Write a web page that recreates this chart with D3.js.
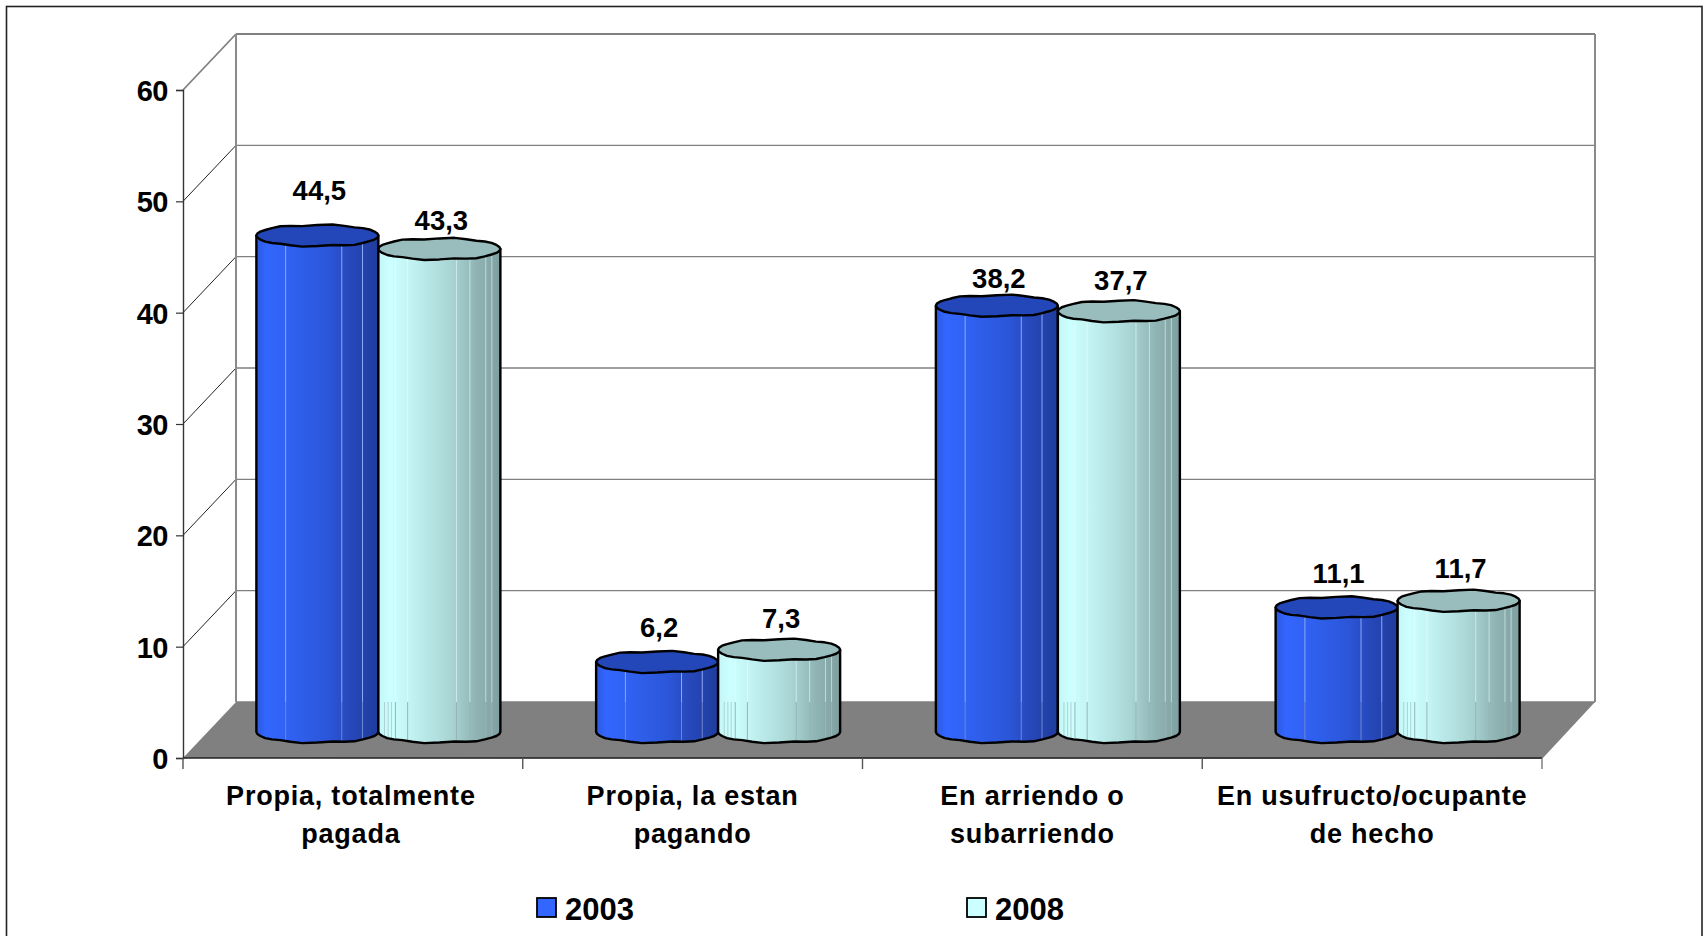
<!DOCTYPE html>
<html>
<head>
<meta charset="utf-8">
<script src="https://cdn.jsdelivr.net/npm/d3@7"></script>
<style>
  html, body { margin: 0; padding: 0; background: #fff; overflow: hidden; }
  text { font-family: "Liberation Sans", Arial, sans-serif; font-weight: bold; fill: #000; }
</style>
</head>
<body>
<svg id="chart" width="1705" height="936"></svg>
<script>
const categories = ["Propia, totalmente|pagada", "Propia, la estan|pagando", "En arriendo o|subarriendo", "En usufructo/ocupante|de hecho"];
const seriesNames = ["2003", "2008"];
const values2003 = [44.5, 6.2, 38.2, 11.1];
const values2008 = [43.3, 7.3, 37.7, 11.7];
const yTicks = [0, 10, 20, 30, 40, 50, 60];

// how far each value label floats above its cylinder (not uniform in the original)
const labelLift2003 = [36, 25, 18, 24];
const labelLift2008 = [19, 22, 21, 23];

const PLOT = { left: 183, right: 1542, top: 90, bottom: 758 };
const DEPTH = { x: 53, y: 56 };
const BAR_W = 122;
const RY = 10.5;

const svg = d3.select("#chart");
const defs = svg.append("defs");

const yscale = d3.scaleLinear().domain([0, 60]).range([PLOT.bottom, PLOT.top]);
const xscale = d3.scaleBand().domain(categories).range([PLOT.left, PLOT.right]);
const inner = d3.scaleBand().domain(seriesNames).range([-BAR_W, BAR_W]);

const backY = v => yscale(v) - DEPTH.y;
const barY = v => yscale(v) - 27;
const floorBackY = backY(0);

const styles = {
  "2003": {
    top: "#2347b8", legend: "#3366ff",
    stops: [[0, "#2c58dc"], [0.08, "#3366ff"], [0.2, "#3163f6"], [0.6, "#2b56d8"], [0.75, "#2749bd"], [1, "#1f3c9c"]],
    lines: [0.24, 0.7, 0.87], lineUp: "#8ea8f5", lineDown: "#7088cf", floorLines: []
  },
  "2008": {
    top: "#99bdbd", legend: "#ccffff",
    stops: [[0, "#c4f6f6"], [0.1, "#ccffff"], [0.25, "#c4f4f4"], [0.6, "#a9d4d4"], [0.8, "#90b4b4"], [1, "#7f9f9f"]],
    lines: [0.14, 0.24, 0.64, 0.75, 0.88, 0.93], lineUp: "rgba(240,255,255,0.55)", lineDown: "#9ab4b4",
    floorLines: [0.05, 0.08, 0.107]
  }
};

seriesNames.forEach(name => {
  const grad = defs.append("linearGradient").attr("id", "side" + name);
  styles[name].stops.forEach(s => grad.append("stop").attr("offset", s[0]).attr("stop-color", s[1]));
});

// walls
const wall = svg.append("g");
wall.append("rect").attr("x", 6.5).attr("y", 6.5).attr("width", 1695.5).attr("height", 960)
  .attr("fill", "#fff").attr("stroke", "#222").attr("stroke-width", 1.6);

wall.append("path")
  .attr("d", d3.line()([[PLOT.left, PLOT.bottom], [PLOT.right, PLOT.bottom + 1], [PLOT.right + DEPTH.x, floorBackY], [PLOT.left + DEPTH.x, floorBackY]]) + "Z")
  .attr("fill", "#808080");

yTicks.forEach(t => {
  const strong = t === 60;
  wall.append("line")
    .attr("x1", PLOT.left + DEPTH.x).attr("x2", PLOT.right + DEPTH.x)
    .attr("y1", backY(t)).attr("y2", backY(t))
    .attr("stroke", "#808080").attr("stroke-width", strong ? 2 : 1.4);
  if (t > 0) {
    wall.append("line")
      .attr("x1", PLOT.left).attr("x2", PLOT.left + DEPTH.x)
      .attr("y1", yscale(t)).attr("y2", backY(t))
      .attr("stroke", strong ? "#808080" : "#222").attr("stroke-width", strong ? 1.8 : 1);
  }
});
wall.append("line").attr("x1", PLOT.left + DEPTH.x).attr("x2", PLOT.left + DEPTH.x)
  .attr("y1", backY(60)).attr("y2", floorBackY).attr("stroke", "#8a8a8a").attr("stroke-width", 2);
wall.append("line").attr("x1", PLOT.right + DEPTH.x).attr("x2", PLOT.right + DEPTH.x)
  .attr("y1", backY(60)).attr("y2", floorBackY).attr("stroke", "#8a8a8a").attr("stroke-width", 2);

// axes
const yaxis = d3.axisLeft(yscale).tickValues(yTicks).tickSize(7).tickPadding(8);
const yG = svg.append("g").attr("transform", `translate(${PLOT.left},0)`).call(yaxis);
yG.select(".domain").attr("stroke", "#333").attr("stroke-width", 1.4);
yG.selectAll(".tick line").attr("stroke", "#333").attr("stroke-width", 1.2);
yG.selectAll("text").style("font-size", "29px").style("letter-spacing", "-0.5px")
  .style("font-family", "Liberation Sans").style("font-weight", "bold").attr("dy", "0.36em");

const xaxis = d3.axisBottom(xscale).tickSize(0).tickPadding(0);
const xG = svg.append("g").attr("transform", `translate(0,${PLOT.bottom})`).call(xaxis);
xG.select(".domain").remove();
xG.selectAll("text").each(function (d, idx) {
  const t = d3.select(this).text("").attr("y", 0).attr("dy", null)
    .style("font-size", "27px").style("letter-spacing", "0.78px")
    .style("font-family", "Liberation Sans").style("font-weight", "bold");
  d.split("|").forEach((part, i) => {
    t.append("tspan").attr("x", idx === 0 ? -2 : 0).attr("y", 47 + i * 38).text(part);
  });
});

svg.append("line").attr("x1", PLOT.left).attr("x2", PLOT.right)
  .attr("y1", PLOT.bottom).attr("y2", PLOT.bottom).attr("stroke", "#222").attr("stroke-width", 1.4);
categories.forEach((c, i) => {
  svg.append("line")
    .attr("x1", xscale(c)).attr("x2", xscale(c))
    .attr("y1", PLOT.bottom).attr("y2", PLOT.bottom + 11)
    .attr("stroke", "#555").attr("stroke-width", 1.4);
  if (i === categories.length - 1) {
    svg.append("line")
      .attr("x1", PLOT.right).attr("x2", PLOT.right)
      .attr("y1", PLOT.bottom).attr("y2", PLOT.bottom + 11)
      .attr("stroke", "#777").attr("stroke-width", 1.4);
  }
});

// the original cylinders are coarse polygons, so the rim wobbles a little
function rim(cx, cy, rx) {
  return d3.range(0, 32).map(k => {
    const a = k / 32 * 2 * Math.PI;
    const w = 1 + 0.08 * Math.sin(8 * a) * Math.abs(Math.sin(a));
    // squarer than a true ellipse at the ends
    const sx = Math.sign(Math.cos(a)) * Math.pow(Math.abs(Math.cos(a)), 0.85);
    return [cx + sx * rx, cy + Math.sin(a) * RY * w];
  });
}

function drawCylinder(g, name, cx, value) {
  const st = styles[name];
  const rx = BAR_W / 2;
  const yTop = barY(value);
  const yBase = barY(0) + 1;
  const ring = rim(cx, yBase, rx);
  // half of the ring facing the viewer: indices 0..16 run right to left along the bottom
  const side = [[cx + rx, yTop]].concat(ring.slice(0, 17)).concat([[cx - rx, yTop]]);
  g.append("path").attr("d", d3.line()(side) + "Z")
    .attr("fill", `url(#side${name})`);

  st.lines.forEach(f => {
    const x = cx - rx + f * BAR_W;
    const dip = RY * Math.sqrt(1 - Math.pow((x - cx) / rx, 2));
    g.append("line").attr("x1", x).attr("x2", x)
      .attr("y1", yTop + dip).attr("y2", Math.max(yTop + dip, floorBackY))
      .attr("stroke", st.lineUp).attr("stroke-width", 1);
    g.append("line").attr("x1", x).attr("x2", x)
      .attr("y1", Math.max(yTop + dip, floorBackY)).attr("y2", yBase + dip)
      .attr("stroke", st.lineDown).attr("stroke-width", 1);
  });
  st.floorLines.forEach(f => {
    const x = cx - rx + f * BAR_W;
    const dip = RY * Math.sqrt(1 - Math.pow((x - cx) / rx, 2));
    if (yTop + dip < floorBackY) {
      g.append("line").attr("x1", x).attr("x2", x)
        .attr("y1", floorBackY).attr("y2", yBase + dip)
        .attr("stroke", st.lineDown).attr("stroke-opacity", 0.6).attr("stroke-width", 1);
    }
  });

  g.append("path").attr("d", d3.line()(side) + "Z")
    .attr("fill", "none").attr("stroke", "#000").attr("stroke-width", 2.4).attr("stroke-linejoin", "round");
  g.append("path").attr("d", d3.line()(rim(cx, yTop, rx)) + "Z")
    .attr("fill", st.top).attr("stroke", "#000").attr("stroke-width", 2.4).attr("stroke-linejoin", "round");
}

const bars = svg.append("g");
categories.forEach((c, i) => {
  const center = xscale(c) + xscale.bandwidth() / 2 + DEPTH.x / 2 - 1;
  [[seriesNames[0], values2003[i], labelLift2003[i]], [seriesNames[1], values2008[i], labelLift2008[i]]].forEach(([name, v, lift]) => {
    const cx = center + inner(name) + inner.bandwidth() / 2;
    drawCylinder(bars, name, cx, v);
    bars.append("text")
      .attr("x", cx + 2).attr("y", barY(v) - lift)
      .attr("text-anchor", "middle").style("font-size", "27.5px")
      .text(String(v).replace(".", ","));
  });
});

// legend
const legendX = d3.scaleOrdinal().domain(seriesNames).range([537, 967]);
seriesNames.forEach(name => {
  svg.append("rect").attr("x", legendX(name)).attr("y", 898).attr("width", 19).attr("height", 19)
    .attr("fill", styles[name].legend).attr("stroke", "#000").attr("stroke-width", 1.8);
  svg.append("text").attr("x", legendX(name) + 28).attr("y", 920)
    .style("font-size", "31px").text(name);
});
</script>
</body>
</html>
